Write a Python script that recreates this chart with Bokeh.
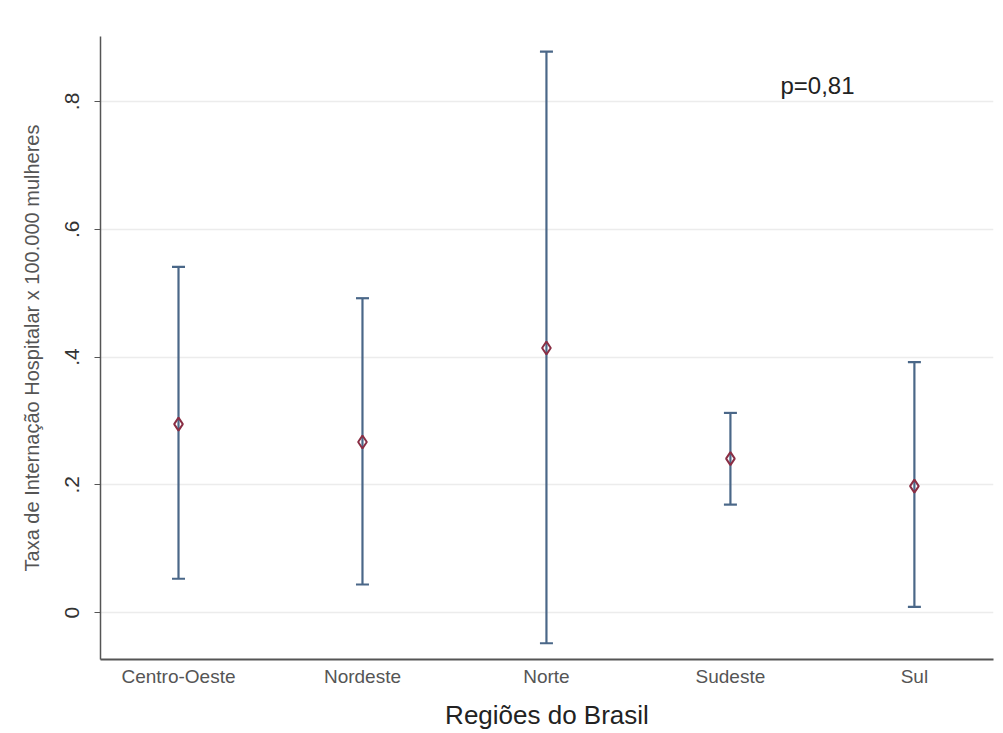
from bokeh.plotting import figure
from bokeh.models import ColumnDataSource, Range1d, Whisker, TeeHead, FixedTicker, Label
from bokeh.embed import file_html
from bokeh.resources import INLINE

# Data
regions = ["Centro-Oeste", "Nordeste", "Norte", "Sudeste", "Sul"]
mean = [0.295, 0.267, 0.414, 0.241, 0.198]
upper = [0.541, 0.492, 0.878, 0.3125, 0.392]
lower = [0.053, 0.044, -0.048, 0.169, 0.009]
y_ticks = [0, 0.2, 0.4, 0.6, 0.8]
y_tick_labels = ["0", ".2", ".4", ".6", ".8"]
p_text = "p=0,81"

xpos = list(range(1, len(regions) + 1))
src = ColumnDataSource(dict(x=xpos, mean=mean, upper=upper, lower=lower))

FONT = "Liberation Sans"

p = figure(width=997, height=732, output_backend="svg", toolbar_location=None,
           x_range=Range1d(0.576, 5.43), y_range=Range1d(-0.0734, 0.9016),
           min_border_left=100, min_border_right=4, min_border_top=36, min_border_bottom=70)
p.outline_line_color = None
p.background_fill_color = "white"
p.border_fill_color = "white"

# grid
p.xgrid.grid_line_color = None
p.ygrid.grid_line_color = "#ececec"
p.ygrid.grid_line_width = 1.5

# axes
p.yaxis.ticker = FixedTicker(ticks=y_ticks)
p.yaxis.major_label_overrides = {t: l for t, l in zip(y_ticks, y_tick_labels)}
p.yaxis.major_label_orientation = "vertical"
p.yaxis.major_label_text_font = FONT
p.yaxis.major_label_text_font_size = "21px"
p.yaxis.major_label_text_color = "#333333"
p.yaxis.major_label_standoff = 15
p.yaxis.axis_label = "Taxa de Internação Hospitalar x 100.000 mulheres"
p.yaxis.axis_label_text_font = FONT
p.yaxis.axis_label_text_font_size = "20px"
p.yaxis.axis_label_text_font_style = "normal"
p.yaxis.axis_label_text_color = "#555555"
p.yaxis.axis_label_standoff = 20
p.yaxis.minor_tick_line_color = None
p.yaxis.major_tick_out = 6
p.yaxis.major_tick_in = 0
p.yaxis.axis_line_color = "#555555"
p.yaxis.axis_line_width = 1.5
p.yaxis.major_tick_line_color = "#555555"

p.xaxis.ticker = FixedTicker(ticks=xpos)
p.xaxis.major_label_overrides = {x: r for x, r in zip(xpos, regions)}
p.xaxis.major_label_text_font = FONT
p.xaxis.major_label_text_font_size = "19px"
p.xaxis.major_label_text_color = "#555555"
p.xaxis.major_label_standoff = 6
p.xaxis.major_tick_out = 0
p.xaxis.major_tick_in = 0
p.xaxis.minor_tick_line_color = None
p.xaxis.axis_label = "Regiões do Brasil"
p.xaxis.axis_label_text_font = FONT
p.xaxis.axis_label_text_font_size = "26px"
p.xaxis.axis_label_text_font_style = "normal"
p.xaxis.axis_label_text_color = "#222222"
p.xaxis.axis_label_standoff = 10
p.xaxis.axis_line_color = "#555555"
p.xaxis.axis_line_width = 2

# error bars
w = Whisker(source=src, base="x", upper="upper", lower="lower",
            line_color="#4a6788", line_width=2.2,
            upper_head=TeeHead(size=13, line_color="#4a6788", line_width=2.2),
            lower_head=TeeHead(size=13, line_color="#4a6788", line_width=2.2))
p.add_layout(w)

# means
p.scatter("x", "mean", source=src, marker="diamond", size=13,
          fill_color=None, line_color="#8a2e44", line_width=2)

p.add_layout(Label(x=4.272, y=0.825, text=p_text, text_font=FONT,
                   text_font_size="24px", text_color="#222222",
                   text_baseline="middle", text_align="left"))

open("out.html", "w").write(file_html(p, INLINE))
